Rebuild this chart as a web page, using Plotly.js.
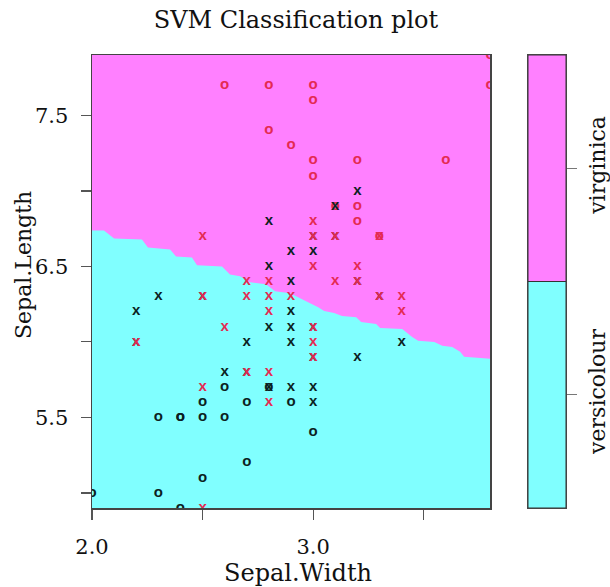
<!DOCTYPE html>
<html>
<head>
<meta charset="utf-8">
<script src="https://cdn.plot.ly/plotly-3.0.1.min.js"></script>
<style>
  html, body { margin: 0; padding: 0; background: #ffffff; }
  #chart { width: 610px; height: 587px; }
</style>
</head>
<body>
<div id="chart"></div>
<script>
// Class labels of the predicted regions (bottom to top in the key)
const classLevels = ['versicolour', 'virginica'];
const keyBreaks = [1, 2, 3];

// Decision boundary between the two predicted regions
const boundaryWidth = [2.000, 2.054, 2.100, 2.226, 2.253, 2.353, 2.380, 2.452, 2.475, 2.588,
  2.624, 2.670, 2.715, 2.787, 2.828, 2.896, 2.950, 2.986, 3.023, 3.050,
  3.095, 3.131, 3.195, 3.217, 3.285, 3.303, 3.403, 3.448, 3.475, 3.548,
  3.584, 3.629, 3.665, 3.683, 3.800];
const boundaryLength = [6.737, 6.737, 6.684, 6.678, 6.625, 6.612, 6.566, 6.559, 6.507, 6.500,
  6.447, 6.434, 6.395, 6.382, 6.336, 6.322, 6.283, 6.257, 6.230, 6.204,
  6.191, 6.171, 6.164, 6.132, 6.118, 6.092, 6.086, 6.033, 6.007, 6.000,
  5.974, 5.967, 5.934, 5.901, 5.888];

// Ordinary observations (drawn as "o")
const virginicaObsWidth  = [2.6, 2.8, 3.0, 3.0, 2.8, 2.9, 3.0, 3.2, 3.6, 3.0, 3.8, 3.8, 3.2, 3.2, 3.1, 3.3];
const virginicaObsLength = [7.7, 7.7, 7.7, 7.6, 7.4, 7.3, 7.2, 7.2, 7.2, 7.1, 7.9, 7.7, 6.9, 6.8, 6.9, 6.7];
const versicolourObsWidth  = [2.6, 2.5, 2.7, 2.9, 2.3, 2.4, 2.4, 2.5, 2.6, 2.7, 2.5, 2.0, 2.3, 2.4, 3.0, 2.8];
const versicolourObsLength = [5.7, 5.6, 5.6, 5.6, 5.5, 5.5, 5.5, 5.5, 5.5, 5.2, 5.1, 5.0, 5.0, 4.9, 5.4, 5.7];

// Support vectors (drawn as "x")
const versicolourSvWidth  = [3.2, 3.1, 2.8, 3.1, 3.0, 2.9, 3.0, 2.8, 2.9, 3.2, 2.3, 2.5, 3.3, 2.2, 2.9,
  2.8, 2.9, 3.0, 2.7, 2.9, 3.4, 2.2, 3.0, 3.2, 2.6, 2.7, 2.8, 2.9, 3.0, 3.0];
const versicolourSvLength = [7.0, 6.9, 6.8, 6.7, 6.7, 6.6, 6.6, 6.5, 6.4, 6.4, 6.3, 6.3, 6.3, 6.2, 6.2,
  6.1, 6.1, 6.1, 6.0, 6.0, 6.0, 6.0, 5.9, 5.9, 5.8, 5.8, 5.7, 5.7, 5.7, 5.6];
const virginicaSvWidth  = [2.5, 3.0, 3.0, 3.1, 3.0, 3.2, 2.7, 2.8, 3.1, 3.2, 2.5, 2.7, 2.8, 2.9, 3.3,
  3.4, 2.8, 3.4, 2.6, 3.0, 2.2, 3.0, 3.0, 2.7, 2.8, 2.5, 2.8, 2.5, 3.3];
const virginicaSvLength = [6.7, 6.8, 6.7, 6.7, 6.5, 6.5, 6.4, 6.4, 6.4, 6.4, 6.3, 6.3, 6.3, 6.3, 6.3,
  6.3, 6.2, 6.2, 6.1, 6.1, 6.0, 6.0, 5.9, 5.8, 5.8, 5.7, 5.6, 4.9, 6.7];

const CYAN = '#80FFFF';
const MAGENTA = '#FF80FF';
const RED = '#E42A52';
const DARK = '#0c1f22';
const SERIF = '"DejaVu Serif", "Liberation Serif", serif';
const SYMFONT = 'Liberation Sans, Arial, sans-serif';

function symbolTrace(xs, ys, ch, color) {
  return {
    type: 'scatter', mode: 'text',
    x: xs, y: ys,
    text: xs.map(() => ch),
    textposition: 'middle center',
    textfont: { family: SYMFONT, size: 15, weight: 'bold', color: color },
    cliponaxis: true,
    hoverinfo: 'skip',
    xaxis: 'x', yaxis: 'y'
  };
}

const traces = [
  // lower (versicolour) region, filled beneath the boundary
  {
    type: 'scatter', mode: 'lines',
    x: boundaryWidth, y: boundaryLength,
    line: { width: 0, color: 'rgba(0,0,0,0)' },
    fill: 'tozeroy', fillcolor: CYAN,
    hoverinfo: 'skip', xaxis: 'x', yaxis: 'y'
  },
  symbolTrace(virginicaObsWidth, virginicaObsLength, 'o', RED),
  symbolTrace(versicolourObsWidth, versicolourObsLength, 'o', DARK),
  symbolTrace(versicolourSvWidth, versicolourSvLength, 'x', DARK),
  symbolTrace(virginicaSvWidth, virginicaSvLength, 'x', RED),
  // key bar for the two classes
  {
    type: 'bar',
    x: [0.5, 0.5],
    y: keyBreaks.slice(1).map((b, i) => b - keyBreaks[i]),
    base: keyBreaks.slice(0, -1),
    width: 1,
    marker: { color: [CYAN, MAGENTA], line: { color: '#333', width: 1 } },
    hoverinfo: 'skip',
    xaxis: 'x2', yaxis: 'y2'
  }
];

const plotW = 610 - 92 - 10;
const layout = {
  width: 610, height: 587,
  margin: { l: 92, r: 10, t: 55, b: 79 },
  paper_bgcolor: '#ffffff',
  plot_bgcolor: MAGENTA,
  showlegend: false,
  barmode: 'overlay',
  title: {
    text: 'SVM Classification plot',
    font: { family: SERIF, size: 24, color: '#111' },
    x: 296 / 610, xref: 'container', xanchor: 'center',
    y: 1 - 20 / 587, yref: 'container', yanchor: 'middle'
  },
  xaxis: {
    domain: [0, 398 / plotW],
    range: [2.0, 3.8],
    tickvals: [2.0, 2.5, 3.0, 3.5],
    ticktext: ['2.0', '', '3.0', ''],
    ticks: 'outside', ticklen: 10, tickwidth: 1.2, tickcolor: '#555',
    ticklabelstandoff: 9,
    tickfont: { family: SERIF, size: 21, color: '#111' },
    showline: true, linecolor: '#444', linewidth: 1.5, mirror: true,
    showgrid: false, zeroline: false,
    anchor: 'y'
  },
  yaxis: {
    domain: [0, 1],
    range: [4.9, 7.9],
    tickvals: [5.0, 5.5, 6.0, 6.5, 7.0, 7.5],
    ticktext: ['', '5.5', '', '6.5', '', '7.5'],
    ticks: 'outside', ticklen: 10, tickwidth: 1.2, tickcolor: '#555',
    ticklabelstandoff: 8,
    tickfont: { family: SERIF, size: 21, color: '#111' },
    showline: true, linecolor: '#444', linewidth: 1.5, mirror: true,
    showgrid: false, zeroline: false,
    anchor: 'x'
  },
  xaxis2: {
    domain: [(528 - 92) / plotW, (566 - 92) / plotW],
    range: [0, 1],
    showticklabels: false, ticks: '',
    showline: true, linecolor: '#444', linewidth: 1.2, mirror: true,
    showgrid: false, zeroline: false,
    anchor: 'y2'
  },
  yaxis2: {
    domain: [0, 1],
    range: [1, 3],
    side: 'right',
    tickvals: [1.5, 2.5],
    ticktext: classLevels,
    tickangle: -90,
    ticks: 'outside', ticklen: 10, tickwidth: 1.2, tickcolor: '#777',
    ticklabelstandoff: 1,
    tickfont: { family: SERIF, size: 22, color: '#111' },
    showline: true, linecolor: '#444', linewidth: 1.2, mirror: true,
    showgrid: false, zeroline: false,
    anchor: 'x2'
  },
  annotations: [
    {
      text: 'Sepal.Width', showarrow: false,
      xref: 'paper', yref: 'paper',
      x: (298 - 92) / plotW, y: -(573 - 508) / 453,
      xanchor: 'center', yanchor: 'middle',
      font: { family: SERIF, size: 24, color: '#111' }
    },
    {
      text: 'Sepal.Length', showarrow: false, textangle: -90,
      xref: 'paper', yref: 'paper',
      x: (23 - 92) / plotW, y: (508 - 265) / 453,
      xanchor: 'center', yanchor: 'middle',
      font: { family: SERIF, size: 22, color: '#111' }
    }
  ]
};

Plotly.newPlot('chart', traces, layout, { displayModeBar: false, staticPlot: true });
</script>
</body>
</html>
